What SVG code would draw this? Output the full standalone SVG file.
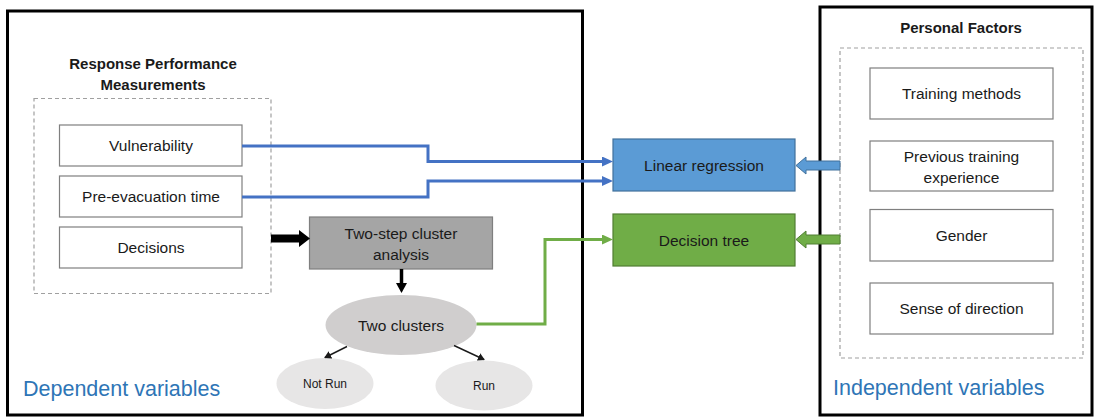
<svg xmlns="http://www.w3.org/2000/svg" width="1095" height="418" viewBox="0 0 1095 418">
<style>
text{font-family:"Liberation Sans",Arial,sans-serif;fill:#1a1a1a;text-anchor:middle}
.n{font-size:15.5px}
.b{font-size:15px;font-weight:bold}
.s{font-size:12px}
.big{font-size:21.5px;fill:#2e75b6;text-anchor:start}
.outer{fill:none;stroke:#000;stroke-width:3}
.dash{fill:none;stroke:#a0a0a0;stroke-width:1.2;stroke-dasharray:4 3}
.box{fill:#fff;stroke:#7f7f7f;stroke-width:1.2}
.blue{fill:none;stroke:#4472c4;stroke-width:3}
.green{fill:none;stroke:#70ad47;stroke-width:3}
.thin{fill:none;stroke:#1a1a1a;stroke-width:1.4}
</style>
<defs>
<marker id="ab" markerUnits="userSpaceOnUse" markerWidth="12" markerHeight="10" refX="0" refY="5" orient="auto"><path d="M0,0 L11,5 L0,10 Z" fill="#4472c4"/></marker>
<marker id="ag" markerUnits="userSpaceOnUse" markerWidth="12" markerHeight="10" refX="0" refY="5" orient="auto"><path d="M0,0 L11,5 L0,10 Z" fill="#70ad47"/></marker>
<marker id="ak" markerUnits="userSpaceOnUse" markerWidth="8" markerHeight="8" refX="6" refY="4" orient="auto"><path d="M0,0 L7,4 L0,8 Z" fill="#1a1a1a"/></marker>
</defs>

<g id="dependent-panel">
<rect class="outer" x="7.5" y="11" width="575" height="404"/>
<text class="big" x="23" y="396">Dependent variables</text>
</g>
<g id="independent-panel">
<rect class="outer" x="820" y="7" width="272" height="408"/>
<text class="big" x="833" y="395">Independent variables</text>
</g>

<g id="response-measurements">
<text class="b" x="153" y="69">Response Performance</text>
<text class="b" x="153" y="90">Measurements</text>
<rect class="dash" x="34" y="98.5" width="237" height="195"/>
</g>
<g id="vulnerability"><rect class="box" x="59.5" y="125" width="182.5" height="41"/><text class="n" x="151" y="151">Vulnerability</text></g>
<g id="pre-evacuation"><rect class="box" x="59.5" y="176" width="182.5" height="41"/><text class="n" x="151" y="202">Pre-evacuation time</text></g>
<g id="decisions"><rect class="box" x="59.5" y="227" width="182.5" height="41"/><text class="n" x="151" y="253">Decisions</text></g>

<g id="two-step"><rect x="309.5" y="217" width="183" height="52" fill="#a5a5a5" stroke="#7f7f7f" stroke-width="1.2"/><text class="n" x="401" y="238.5">Two-step cluster</text><text class="n" x="401" y="259.5">analysis</text></g>
<g id="two-clusters"><ellipse cx="401" cy="325" rx="75.5" ry="30" fill="#d0cece"/><text class="n" x="401" y="330.5">Two clusters</text></g>
<g id="not-run"><ellipse cx="325" cy="383.5" rx="48.5" ry="25.5" fill="#e7e6e6"/><text class="s" x="325" y="387.5">Not Run</text></g>
<g id="run"><ellipse cx="484" cy="385.5" rx="48.5" ry="25" fill="#e7e6e6"/><text class="s" x="484" y="389.5">Run</text></g>

<g id="linear-regression"><rect x="613" y="139" width="182" height="52" fill="#5b9bd5" stroke="#41719c" stroke-width="1.2"/><text class="n" x="704" y="170.5">Linear regression</text></g>
<g id="decision-tree"><rect x="613" y="214" width="182" height="52" fill="#70ad47" stroke="#507e32" stroke-width="1.2"/><text class="n" x="704" y="245.5">Decision tree</text></g>

<g id="personal-factors">
<text class="b" x="961" y="33">Personal Factors</text>
<rect class="dash" x="840" y="48" width="243" height="310"/>
</g>
<g id="training-methods"><rect class="box" x="870" y="68" width="183" height="51"/><text class="n" x="961.5" y="99">Training methods</text></g>
<g id="previous-training"><rect class="box" x="870" y="141" width="183" height="50"/><text class="n" x="961.5" y="161.5">Previous training</text><text class="n" x="961.5" y="182.5">experience</text></g>
<g id="gender"><rect class="box" x="870" y="209.5" width="183" height="51.5"/><text class="n" x="961.5" y="240.5">Gender</text></g>
<g id="sense-of-direction"><rect class="box" x="870" y="283" width="183" height="51"/><text class="n" x="961.5" y="314">Sense of direction</text></g>

<g id="connectors">
<polyline class="blue" points="242,146 428,146 428,161.5 602,161.5" marker-end="url(#ab)"/>
<polyline class="blue" points="242,197 428,197 428,181 602,181" marker-end="url(#ab)"/>
<polyline class="green" points="476.5,324 545,324 545,239.5 602,239.5" marker-end="url(#ag)"/>
<polygon points="271,234.5 299,234.5 299,230 310,238.5 299,247 299,242.5 271,242.5" fill="#000"/>
<line x1="401.5" y1="269" x2="401.5" y2="284" stroke="#000" stroke-width="3.5"/>
<polygon points="396,283 407,283 401.5,293" fill="#000"/>
<line class="thin" x1="347" y1="346.5" x2="325" y2="357.5" marker-end="url(#ak)"/>
<line class="thin" x1="454" y1="345.5" x2="484" y2="359.5" marker-end="url(#ak)"/>
<polygon points="796,165.5 806,157 806,161 840,161 840,170 806,170 806,174" fill="#5b9bd5" stroke="#41719c" stroke-width="1"/>
<polygon points="796,239.5 806,231 806,235 840,235 840,244 806,244 806,248" fill="#70ad47" stroke="#507e32" stroke-width="1"/>
</g>
</svg>
